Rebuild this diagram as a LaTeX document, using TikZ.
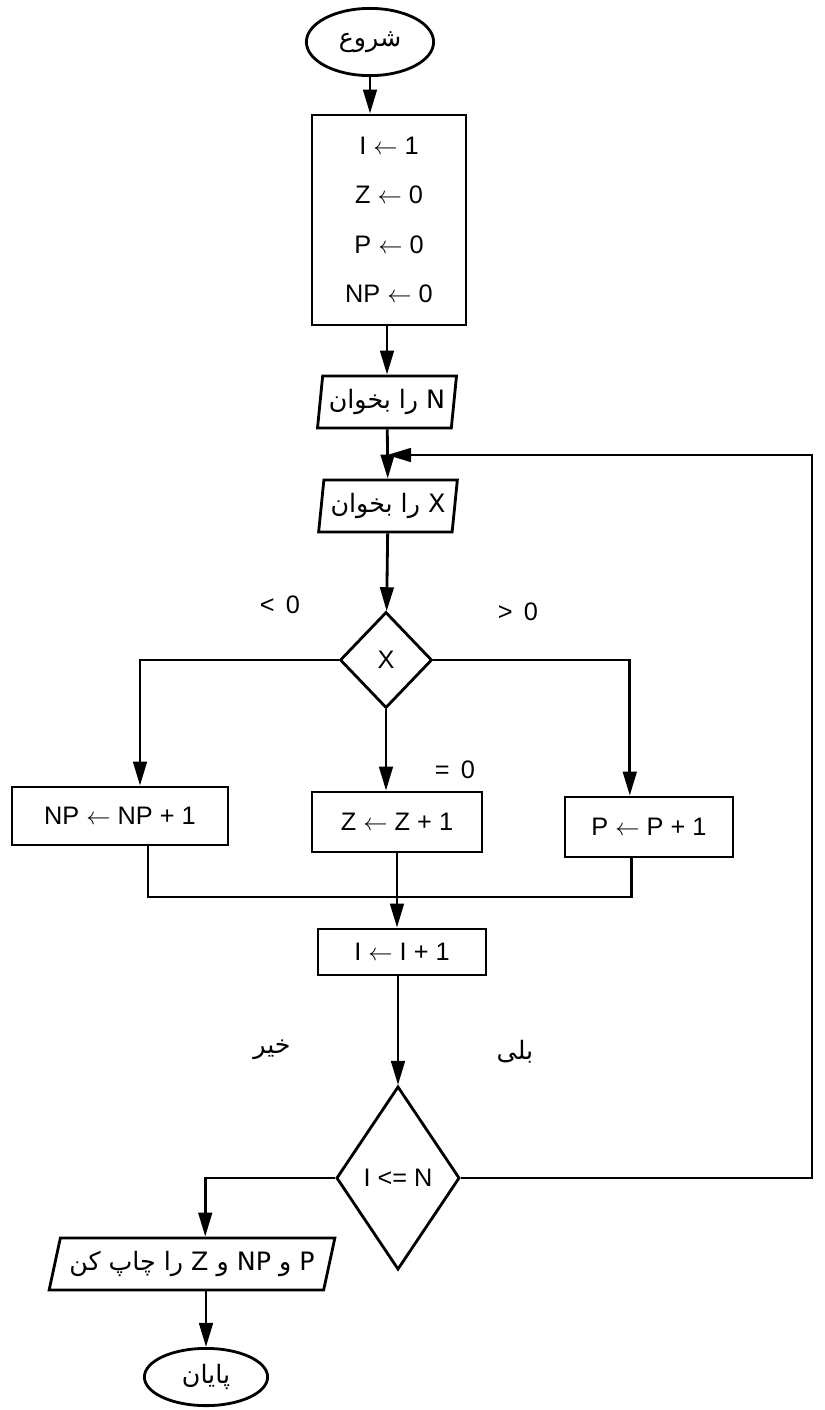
\documentclass[tikz,border=0pt]{standalone}
\usepackage{fontspec}
\setmainfont{Liberation Sans}
\newfontfamily\fa[Script=Arabic]{DejaVu Sans}
\TeXXeTstate=1
\usetikzlibrary{arrows.meta,shapes.geometric}
\tikzset{
  proc/.style={draw, line width=2pt, rectangle, inner sep=2pt, align=center},
  io/.style={draw, line width=2pt, trapezium, trapezium left angle=81, trapezium right angle=99, trapezium stretches=true, inner sep=2pt},
  term/.style={draw, line width=2pt, ellipse, inner sep=0pt},
  dec/.style={draw, line width=2pt, diamond, inner sep=0pt},
  flow/.style={-{Triangle[length=6mm,width=3.4mm]}, line width=2pt},
  link/.style={line width=2pt},
}
\begin{document}
\begin{tikzpicture}[x=0.025cm, y=-0.025cm, font=\fontsize{18}{21}\selectfont]
  \useasboundingbox (0,0) rectangle (824,1410);
  % start and setup
  \node[term,minimum width=3.18cm,minimum height=1.68cm] (start) at (370,42) {\fa\beginR شروع\endR};
  \node[proc,minimum width=3.85cm,minimum height=5.25cm,font=\fontsize{18}{35}\selectfont] (init) at (389,220)
    {I $\leftarrow$ 1\\ Z $\leftarrow$ 0\\ P $\leftarrow$ 0\\ NP $\leftarrow$ 0};
  % input
  \node[io,minimum width=3.5cm,minimum height=1.3cm] (readN) at (387,402) {\fa\beginR N را بخوان\endR};
  \node[io,minimum width=3.5cm,minimum height=1.3cm] (readX) at (388,506) {\fa\beginR X را بخوان\endR};
  % sign test
  \node[dec,minimum width=2.3cm,minimum height=2.4cm] (decX) at (386,660) {X};
  \node (ltz) at (280,605) {<\, 0};
  \node (gtz) at (518,612) {>\, 0};
  \node (eqz) at (455,770) {=\, 0};
  \node[proc,minimum width=5.4cm,minimum height=1.45cm] (npbox) at (120,816) {NP $\leftarrow$ NP + 1};
  \node[proc,minimum width=4.25cm,minimum height=1.5cm] (zbox) at (397,822) {Z $\leftarrow$ Z + 1};
  \node[proc,minimum width=4.2cm,minimum height=1.5cm] (pbox) at (649,827) {P $\leftarrow$ P + 1};
  \coordinate (mrg) at (398,897);
  % counter and loop test
  \node[proc,minimum width=4.2cm,minimum height=1.15cm] (incI) at (402,952) {I $\leftarrow$ I + 1};
  \node[dec,minimum width=3.08cm,minimum height=4.58cm] (decI) at (398,1178) {I <= N};
  \node[font=\fa\fontsize{18}{21}\selectfont] (no) at (272,1050) {\beginR خیر\endR};
  \node[font=\fa\fontsize{18}{21}\selectfont] (yes) at (515,1052) {\beginR بلی\endR};
  \coordinate (loopT) at (812,455);
  % output and end
  \node[io,trapezium left angle=71,trapezium right angle=109,minimum width=7.15cm,minimum height=1.3cm] (print) at (192,1264)
    {\fa\beginR P و NP و Z را چاپ کن\endR};
  \node[term,minimum width=3.08cm,minimum height=1.43cm] (finish) at (206,1377) {\fa\beginR پایان\endR};

  \draw[flow] (start.south) -- (start.south |- init.north);
  \draw[flow] (readN.north |- init.south) -- (readN.north);
  \draw[flow] (readN) -- (readX);
  \draw[flow] (readX) -- (decX);
  \draw[flow] (decX.west) -| ([xshift=0.5cm]npbox.north);
  \draw[flow] (decX.east) -| ([xshift=-0.48cm]pbox.north);
  \draw[flow] (decX.south) -- (decX.south |- zbox.north);
  \draw[link] ([xshift=0.7cm]npbox.south) |- (mrg) -| ([xshift=-0.43cm]pbox.south);
  \draw[flow] (zbox.south) -- (zbox.south |- incI.north);
  \draw[flow] (decI.north |- incI.south) -- (decI.north);
  \draw[flow] (decI.east) -| (loopT) -- (readN.south |- loopT);
  \draw[flow] (decI.west) -| ([xshift=0.33cm]print.north);
  \draw[flow] (finish.north |- print.south) -- (finish.north);
\end{tikzpicture}
\end{document}
